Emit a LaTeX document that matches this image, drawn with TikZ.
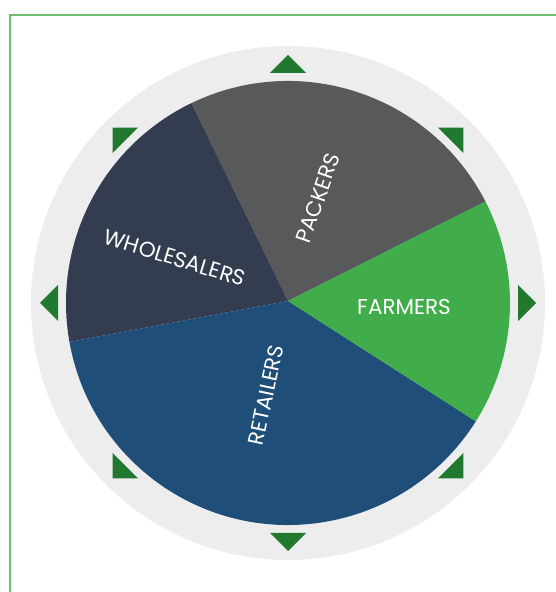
\documentclass[tikz,border=0pt]{standalone}
\usepackage{fontspec}
\setmainfont{Poppins}
\definecolor{ringgray}{HTML}{EDEDED}
\definecolor{packgray}{HTML}{58595B}
\definecolor{wholenavy}{HTML}{333D4F}
\definecolor{farmgreen}{HTML}{40AD4A}
\definecolor{retailblue}{HTML}{1F4E79}
\definecolor{arrowgreen}{HTML}{21782F}
\definecolor{framegreen}{HTML}{6BBF6E}

\begin{document}
\begin{tikzpicture}[x=1pt,y=1pt,
	slicetext/.style={text=white,font=\fontsize{21.5}{21.5}\selectfont},
	pointer/.style={fill=arrowgreen}]
	\useasboundingbox (0,0) rectangle (556,592);
	\clip (0,0) rectangle (556,592);
	\draw[framegreen,line width=1.2pt] (10,-10) rectangle (600,577);

	\coordinate (c) at (288,289);
	\coordinate (hub) at (288,291);
	\fill[ringgray] (c) circle (257);

	% slices
	\fill[packgray] (hub) -- ([shift={(27.2:222)}]c) arc[start angle=27.2,end angle=115.8,radius=222] -- cycle;
	\fill[wholenavy] (hub) -- ([shift={(115.8:222)}]c) arc[start angle=115.8,end angle=190.1,radius=222] -- cycle;
	\fill[retailblue] (hub) -- ([shift={(190.1:222)}]c) arc[start angle=190.1,end angle=327.8,radius=222] -- cycle;
	\fill[farmgreen] (hub) -- ([shift={(-32.2:222)}]c) arc[start angle=-32.2,end angle=27.2,radius=222] -- cycle;

	% pointers round the ring
	\foreach \a in {0,45,...,315}
		\fill[pointer,shift={(c)},rotate=\a] (230,-18) -- (248,0) -- (230,18) -- cycle;

	\draw (318,394) node [slicetext, rotate=71] (packers) {PACKERS};
	\draw (175,334) node [slicetext, rotate=-17] (wholesalers) {WHOLESALERS};
	\draw (404,285) node [slicetext] (farmers) {FARMERS};
	\draw (266,197) node [slicetext, rotate=78] (retailers) {RETAILERS};
\end{tikzpicture}
\end{document}
